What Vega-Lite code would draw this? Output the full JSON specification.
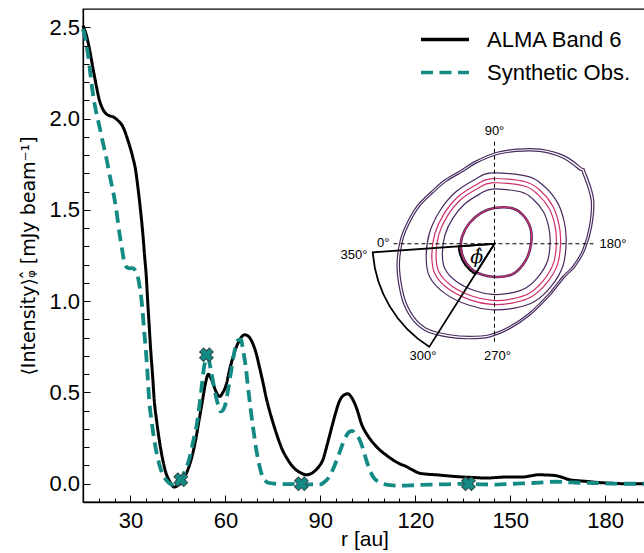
{
  "$schema": "https://vega.github.io/schema/vega-lite/v6.json",
  "description": "Azimuthally averaged intensity profile, ALMA Band 6 vs synthetic observation",
  "width": 563,
  "height": 493,
  "autosize": {"type": "none"},
  "padding": {"left": 83, "top": 9, "right": 0, "bottom": 51},
  "background": "white",
  "config": {
    "view": {"stroke": "black", "strokeWidth": 1.3},
    "font": "Liberation Sans",
    "axis": {
      "grid": false,
      "domainColor": "black",
      "domainWidth": 1.3,
      "tickColor": "black",
      "tickWidth": 1,
      "labelColor": "black",
      "titleColor": "black",
      "labelFont": "Liberation Sans",
      "titleFont": "Liberation Sans",
      "labelFontSize": 22,
      "titleFontSize": 21,
      "titleFontWeight": "normal",
      "labelFlush": false,
      "labelOverlap": false,
      "labelBound": false
    }
  },
  "resolve": {"axis": {"x": "independent", "y": "independent"}},
  "datasets": {
    "profile": [
      {"series": "ALMA Band 6", "r": 15, "v": 2.51},
      {"series": "ALMA Band 6", "r": 16, "v": 2.46},
      {"series": "ALMA Band 6", "r": 17.05, "v": 2.38},
      {"series": "ALMA Band 6", "r": 18.1, "v": 2.28},
      {"series": "ALMA Band 6", "r": 19.2, "v": 2.18},
      {"series": "ALMA Band 6", "r": 20.2, "v": 2.1},
      {"series": "ALMA Band 6", "r": 21.3, "v": 2.05},
      {"series": "ALMA Band 6", "r": 22.4, "v": 2.025},
      {"series": "ALMA Band 6", "r": 23.4, "v": 2.015},
      {"series": "ALMA Band 6", "r": 24.4, "v": 2.01},
      {"series": "ALMA Band 6", "r": 26, "v": 1.99},
      {"series": "ALMA Band 6", "r": 27.6, "v": 1.955},
      {"series": "ALMA Band 6", "r": 29.2, "v": 1.88},
      {"series": "ALMA Band 6", "r": 30.7, "v": 1.79},
      {"series": "ALMA Band 6", "r": 31.6, "v": 1.72},
      {"series": "ALMA Band 6", "r": 32.3, "v": 1.63},
      {"series": "ALMA Band 6", "r": 33.1, "v": 1.51},
      {"series": "ALMA Band 6", "r": 33.9, "v": 1.37},
      {"series": "ALMA Band 6", "r": 34.5, "v": 1.24},
      {"series": "ALMA Band 6", "r": 35, "v": 1.135},
      {"series": "ALMA Band 6", "r": 35.4, "v": 1.01},
      {"series": "ALMA Band 6", "r": 35.9, "v": 0.87},
      {"series": "ALMA Band 6", "r": 36.4, "v": 0.73},
      {"series": "ALMA Band 6", "r": 37, "v": 0.59},
      {"series": "ALMA Band 6", "r": 37.5, "v": 0.46},
      {"series": "ALMA Band 6", "r": 38.3, "v": 0.34},
      {"series": "ALMA Band 6", "r": 39.1, "v": 0.24},
      {"series": "ALMA Band 6", "r": 40.1, "v": 0.14},
      {"series": "ALMA Band 6", "r": 41.2, "v": 0.06},
      {"series": "ALMA Band 6", "r": 42.5, "v": 0.01},
      {"series": "ALMA Band 6", "r": 43.8, "v": -0.018},
      {"series": "ALMA Band 6", "r": 45.1, "v": -0.008},
      {"series": "ALMA Band 6", "r": 46.4, "v": 0.013},
      {"series": "ALMA Band 6", "r": 47.5, "v": 0.05},
      {"series": "ALMA Band 6", "r": 48.5, "v": 0.095},
      {"series": "ALMA Band 6", "r": 49.6, "v": 0.16},
      {"series": "ALMA Band 6", "r": 50.6, "v": 0.24},
      {"series": "ALMA Band 6", "r": 51.7, "v": 0.35},
      {"series": "ALMA Band 6", "r": 52.8, "v": 0.46},
      {"series": "ALMA Band 6", "r": 53.7, "v": 0.55},
      {"series": "ALMA Band 6", "r": 54.6, "v": 0.6},
      {"series": "ALMA Band 6", "r": 55.5, "v": 0.575},
      {"series": "ALMA Band 6", "r": 56.4, "v": 0.533},
      {"series": "ALMA Band 6", "r": 57.3, "v": 0.495},
      {"series": "ALMA Band 6", "r": 58.2, "v": 0.478},
      {"series": "ALMA Band 6", "r": 59.2, "v": 0.5},
      {"series": "ALMA Band 6", "r": 60.1, "v": 0.533},
      {"series": "ALMA Band 6", "r": 61.4, "v": 0.63},
      {"series": "ALMA Band 6", "r": 62.8, "v": 0.716},
      {"series": "ALMA Band 6", "r": 64.4, "v": 0.785},
      {"series": "ALMA Band 6", "r": 66.1, "v": 0.816},
      {"series": "ALMA Band 6", "r": 67.4, "v": 0.805},
      {"series": "ALMA Band 6", "r": 68.6, "v": 0.77},
      {"series": "ALMA Band 6", "r": 69.7, "v": 0.715},
      {"series": "ALMA Band 6", "r": 70.7, "v": 0.643},
      {"series": "ALMA Band 6", "r": 71.8, "v": 0.56},
      {"series": "ALMA Band 6", "r": 72.8, "v": 0.478},
      {"series": "ALMA Band 6", "r": 74.1, "v": 0.39},
      {"series": "ALMA Band 6", "r": 75.4, "v": 0.314},
      {"series": "ALMA Band 6", "r": 76.7, "v": 0.245},
      {"series": "ALMA Band 6", "r": 78, "v": 0.186},
      {"series": "ALMA Band 6", "r": 79.6, "v": 0.135},
      {"series": "ALMA Band 6", "r": 81.2, "v": 0.095},
      {"series": "ALMA Band 6", "r": 82.4, "v": 0.075},
      {"series": "ALMA Band 6", "r": 84, "v": 0.058},
      {"series": "ALMA Band 6", "r": 85.5, "v": 0.049},
      {"series": "ALMA Band 6", "r": 87.1, "v": 0.056},
      {"series": "ALMA Band 6", "r": 88.7, "v": 0.077},
      {"series": "ALMA Band 6", "r": 89.8, "v": 0.1},
      {"series": "ALMA Band 6", "r": 90.8, "v": 0.131},
      {"series": "ALMA Band 6", "r": 92.1, "v": 0.21},
      {"series": "ALMA Band 6", "r": 93.4, "v": 0.296},
      {"series": "ALMA Band 6", "r": 94.7, "v": 0.38},
      {"series": "ALMA Band 6", "r": 96, "v": 0.451},
      {"series": "ALMA Band 6", "r": 97.4, "v": 0.485},
      {"series": "ALMA Band 6", "r": 98.7, "v": 0.493},
      {"series": "ALMA Band 6", "r": 99.8, "v": 0.474},
      {"series": "ALMA Band 6", "r": 100.8, "v": 0.442},
      {"series": "ALMA Band 6", "r": 101.9, "v": 0.39},
      {"series": "ALMA Band 6", "r": 102.9, "v": 0.332},
      {"series": "ALMA Band 6", "r": 104.2, "v": 0.285},
      {"series": "ALMA Band 6", "r": 105.5, "v": 0.25},
      {"series": "ALMA Band 6", "r": 107.1, "v": 0.215},
      {"series": "ALMA Band 6", "r": 108.7, "v": 0.186},
      {"series": "ALMA Band 6", "r": 110.8, "v": 0.157},
      {"series": "ALMA Band 6", "r": 112.9, "v": 0.131},
      {"series": "ALMA Band 6", "r": 115, "v": 0.11},
      {"series": "ALMA Band 6", "r": 117.1, "v": 0.095},
      {"series": "ALMA Band 6", "r": 119.2, "v": 0.075},
      {"series": "ALMA Band 6", "r": 121.3, "v": 0.058},
      {"series": "ALMA Band 6", "r": 124, "v": 0.052},
      {"series": "ALMA Band 6", "r": 126.6, "v": 0.049},
      {"series": "ALMA Band 6", "r": 129.7, "v": 0.044},
      {"series": "ALMA Band 6", "r": 132.4, "v": 0.04},
      {"series": "ALMA Band 6", "r": 135, "v": 0.037},
      {"series": "ALMA Band 6", "r": 138.7, "v": 0.034},
      {"series": "ALMA Band 6", "r": 142.4, "v": 0.031},
      {"series": "ALMA Band 6", "r": 145.5, "v": 0.034},
      {"series": "ALMA Band 6", "r": 148.7, "v": 0.037},
      {"series": "ALMA Band 6", "r": 151.3, "v": 0.037},
      {"series": "ALMA Band 6", "r": 154, "v": 0.037},
      {"series": "ALMA Band 6", "r": 156.4, "v": 0.043},
      {"series": "ALMA Band 6", "r": 158.7, "v": 0.049},
      {"series": "ALMA Band 6", "r": 161.6, "v": 0.048},
      {"series": "ALMA Band 6", "r": 164.5, "v": 0.044},
      {"series": "ALMA Band 6", "r": 166.6, "v": 0.034},
      {"series": "ALMA Band 6", "r": 168.7, "v": 0.022},
      {"series": "ALMA Band 6", "r": 171.3, "v": 0.017},
      {"series": "ALMA Band 6", "r": 174, "v": 0.013},
      {"series": "ALMA Band 6", "r": 177, "v": 0.008},
      {"series": "ALMA Band 6", "r": 180.3, "v": 0.004},
      {"series": "ALMA Band 6", "r": 184, "v": 0.001},
      {"series": "ALMA Band 6", "r": 188, "v": 0},
      {"series": "ALMA Band 6", "r": 193, "v": 0},
      {"series": "Synthetic Obs.", "r": 15, "v": 2.49},
      {"series": "Synthetic Obs.", "r": 15.7, "v": 2.44},
      {"series": "Synthetic Obs.", "r": 16.5, "v": 2.36},
      {"series": "Synthetic Obs.", "r": 17.3, "v": 2.25},
      {"series": "Synthetic Obs.", "r": 18.1, "v": 2.14},
      {"series": "Synthetic Obs.", "r": 19.1, "v": 2.04},
      {"series": "Synthetic Obs.", "r": 20.2, "v": 1.957},
      {"series": "Synthetic Obs.", "r": 21.2, "v": 1.875},
      {"series": "Synthetic Obs.", "r": 22.3, "v": 1.79},
      {"series": "Synthetic Obs.", "r": 23.6, "v": 1.675},
      {"series": "Synthetic Obs.", "r": 25, "v": 1.555},
      {"series": "Synthetic Obs.", "r": 25.8, "v": 1.465},
      {"series": "Synthetic Obs.", "r": 26.5, "v": 1.373},
      {"series": "Synthetic Obs.", "r": 27.3, "v": 1.29},
      {"series": "Synthetic Obs.", "r": 28.1, "v": 1.209},
      {"series": "Synthetic Obs.", "r": 28.9, "v": 1.185},
      {"series": "Synthetic Obs.", "r": 29.8, "v": 1.18},
      {"series": "Synthetic Obs.", "r": 30.7, "v": 1.181},
      {"series": "Synthetic Obs.", "r": 31.6, "v": 1.165},
      {"series": "Synthetic Obs.", "r": 32.3, "v": 1.135},
      {"series": "Synthetic Obs.", "r": 32.9, "v": 1.08},
      {"series": "Synthetic Obs.", "r": 33.4, "v": 1.02},
      {"series": "Synthetic Obs.", "r": 33.8, "v": 0.95},
      {"series": "Synthetic Obs.", "r": 34.3, "v": 0.84},
      {"series": "Synthetic Obs.", "r": 34.85, "v": 0.734},
      {"series": "Synthetic Obs.", "r": 35.4, "v": 0.6},
      {"series": "Synthetic Obs.", "r": 35.9, "v": 0.46},
      {"series": "Synthetic Obs.", "r": 36.7, "v": 0.34},
      {"series": "Synthetic Obs.", "r": 37.5, "v": 0.241},
      {"series": "Synthetic Obs.", "r": 38.5, "v": 0.15},
      {"series": "Synthetic Obs.", "r": 39.6, "v": 0.077},
      {"series": "Synthetic Obs.", "r": 40.9, "v": 0.03},
      {"series": "Synthetic Obs.", "r": 42.2, "v": 0.004},
      {"series": "Synthetic Obs.", "r": 43.3, "v": -0.006},
      {"series": "Synthetic Obs.", "r": 44.3, "v": -0.005},
      {"series": "Synthetic Obs.", "r": 45.1, "v": 0.005},
      {"series": "Synthetic Obs.", "r": 45.9, "v": 0.022},
      {"series": "Synthetic Obs.", "r": 47.2, "v": 0.07},
      {"series": "Synthetic Obs.", "r": 48.5, "v": 0.131},
      {"series": "Synthetic Obs.", "r": 49.8, "v": 0.23},
      {"series": "Synthetic Obs.", "r": 51.2, "v": 0.35},
      {"series": "Synthetic Obs.", "r": 52.3, "v": 0.5},
      {"series": "Synthetic Obs.", "r": 53.3, "v": 0.643},
      {"series": "Synthetic Obs.", "r": 54, "v": 0.695},
      {"series": "Synthetic Obs.", "r": 54.7, "v": 0.68},
      {"series": "Synthetic Obs.", "r": 55.4, "v": 0.624},
      {"series": "Synthetic Obs.", "r": 56.2, "v": 0.55},
      {"series": "Synthetic Obs.", "r": 57, "v": 0.478},
      {"series": "Synthetic Obs.", "r": 57.8, "v": 0.425},
      {"series": "Synthetic Obs.", "r": 58.5, "v": 0.396},
      {"series": "Synthetic Obs.", "r": 59.3, "v": 0.405},
      {"series": "Synthetic Obs.", "r": 60.1, "v": 0.442},
      {"series": "Synthetic Obs.", "r": 60.9, "v": 0.52},
      {"series": "Synthetic Obs.", "r": 61.7, "v": 0.606},
      {"series": "Synthetic Obs.", "r": 62.6, "v": 0.7},
      {"series": "Synthetic Obs.", "r": 63.5, "v": 0.77},
      {"series": "Synthetic Obs.", "r": 64.2, "v": 0.788},
      {"series": "Synthetic Obs.", "r": 64.9, "v": 0.789},
      {"series": "Synthetic Obs.", "r": 65.6, "v": 0.73},
      {"series": "Synthetic Obs.", "r": 66.4, "v": 0.643},
      {"series": "Synthetic Obs.", "r": 67.2, "v": 0.52},
      {"series": "Synthetic Obs.", "r": 68, "v": 0.405},
      {"series": "Synthetic Obs.", "r": 68.8, "v": 0.3},
      {"series": "Synthetic Obs.", "r": 69.6, "v": 0.204},
      {"series": "Synthetic Obs.", "r": 70.6, "v": 0.11},
      {"series": "Synthetic Obs.", "r": 71.7, "v": 0.04},
      {"series": "Synthetic Obs.", "r": 72.7, "v": 0.015},
      {"series": "Synthetic Obs.", "r": 73.8, "v": 0.004},
      {"series": "Synthetic Obs.", "r": 76, "v": 0},
      {"series": "Synthetic Obs.", "r": 78, "v": -0.002},
      {"series": "Synthetic Obs.", "r": 80.5, "v": -0.002},
      {"series": "Synthetic Obs.", "r": 83.9, "v": 0},
      {"series": "Synthetic Obs.", "r": 86.8, "v": -0.003},
      {"series": "Synthetic Obs.", "r": 89.7, "v": -0.005},
      {"series": "Synthetic Obs.", "r": 91.3, "v": 0.01},
      {"series": "Synthetic Obs.", "r": 92.9, "v": 0.04},
      {"series": "Synthetic Obs.", "r": 94.5, "v": 0.1},
      {"series": "Synthetic Obs.", "r": 96, "v": 0.168},
      {"series": "Synthetic Obs.", "r": 97.1, "v": 0.22},
      {"series": "Synthetic Obs.", "r": 98.1, "v": 0.259},
      {"series": "Synthetic Obs.", "r": 99, "v": 0.282},
      {"series": "Synthetic Obs.", "r": 100, "v": 0.29},
      {"series": "Synthetic Obs.", "r": 101.2, "v": 0.27},
      {"series": "Synthetic Obs.", "r": 102.4, "v": 0.241},
      {"series": "Synthetic Obs.", "r": 103.5, "v": 0.19},
      {"series": "Synthetic Obs.", "r": 104.5, "v": 0.131},
      {"series": "Synthetic Obs.", "r": 105.5, "v": 0.08},
      {"series": "Synthetic Obs.", "r": 106.6, "v": 0.04},
      {"series": "Synthetic Obs.", "r": 108.1, "v": 0.012},
      {"series": "Synthetic Obs.", "r": 109.7, "v": 0},
      {"series": "Synthetic Obs.", "r": 112, "v": -0.008},
      {"series": "Synthetic Obs.", "r": 115, "v": -0.011},
      {"series": "Synthetic Obs.", "r": 120, "v": -0.008},
      {"series": "Synthetic Obs.", "r": 124.5, "v": -0.005},
      {"series": "Synthetic Obs.", "r": 130, "v": -0.003},
      {"series": "Synthetic Obs.", "r": 136.6, "v": 0},
      {"series": "Synthetic Obs.", "r": 141, "v": -0.003},
      {"series": "Synthetic Obs.", "r": 145.5, "v": -0.005},
      {"series": "Synthetic Obs.", "r": 151, "v": 0},
      {"series": "Synthetic Obs.", "r": 157.1, "v": 0.004},
      {"series": "Synthetic Obs.", "r": 161, "v": 0.008},
      {"series": "Synthetic Obs.", "r": 164.5, "v": 0.011},
      {"series": "Synthetic Obs.", "r": 167, "v": 0.009},
      {"series": "Synthetic Obs.", "r": 169.8, "v": 0.007},
      {"series": "Synthetic Obs.", "r": 173, "v": 0.005},
      {"series": "Synthetic Obs.", "r": 176.1, "v": 0.004},
      {"series": "Synthetic Obs.", "r": 180, "v": 0.002},
      {"series": "Synthetic Obs.", "r": 185, "v": 0},
      {"series": "Synthetic Obs.", "r": 193, "v": 0}
    ],
    "markers": [
      {"r": 45.9, "v": 0.022},
      {"r": 54.0, "v": 0.706},
      {"r": 84.0, "v": 0.0},
      {"r": 136.8, "v": 0.0}
    ],
    "contours": [
      {"c": "A", "i": 1, "r": 145.02, "v": 1.51},
      {"c": "A", "i": 2, "r": 150.29, "v": 1.51},
      {"c": "A", "i": 3, "r": 153.96, "v": 1.473},
      {"c": "A", "i": 4, "r": 156.39, "v": 1.4},
      {"c": "A", "i": 5, "r": 156.61, "v": 1.318},
      {"c": "A", "i": 6, "r": 155.03, "v": 1.227},
      {"c": "A", "i": 7, "r": 151.33, "v": 1.154},
      {"c": "A", "i": 8, "r": 146.06, "v": 1.132},
      {"c": "A", "i": 9, "r": 139.74, "v": 1.154},
      {"c": "A", "i": 10, "r": 136.07, "v": 1.209},
      {"c": "A", "i": 11, "r": 134.49, "v": 1.282},
      {"c": "A", "i": 12, "r": 134.81, "v": 1.354},
      {"c": "A", "i": 13, "r": 137.12, "v": 1.428},
      {"c": "A", "i": 14, "r": 140.81, "v": 1.483},
      {"c": "B", "i": 1, "r": 144.36, "v": 1.614},
      {"c": "B", "i": 2, "r": 153.27, "v": 1.599},
      {"c": "B", "i": 3, "r": 157.33, "v": 1.557},
      {"c": "B", "i": 4, "r": 160.56, "v": 1.487},
      {"c": "B", "i": 5, "r": 162.19, "v": 1.403},
      {"c": "B", "i": 6, "r": 162.61, "v": 1.319},
      {"c": "B", "i": 7, "r": 161.78, "v": 1.22},
      {"c": "B", "i": 8, "r": 158.96, "v": 1.136},
      {"c": "B", "i": 9, "r": 154.9, "v": 1.072},
      {"c": "B", "i": 10, "r": 150.03, "v": 1.044},
      {"c": "B", "i": 11, "r": 144.36, "v": 1.037},
      {"c": "B", "i": 12, "r": 138.67, "v": 1.058},
      {"c": "B", "i": 13, "r": 133.0, "v": 1.108},
      {"c": "B", "i": 14, "r": 129.35, "v": 1.178},
      {"c": "B", "i": 15, "r": 128.55, "v": 1.262},
      {"c": "B", "i": 16, "r": 129.35, "v": 1.361},
      {"c": "B", "i": 17, "r": 131.78, "v": 1.452},
      {"c": "B", "i": 18, "r": 135.43, "v": 1.529},
      {"c": "B", "i": 19, "r": 140.3, "v": 1.586},
      {"c": "C", "i": 1, "r": 144.21, "v": 1.648},
      {"c": "C", "i": 2, "r": 154.16, "v": 1.632},
      {"c": "C", "i": 3, "r": 158.69, "v": 1.585},
      {"c": "C", "i": 4, "r": 162.31, "v": 1.507},
      {"c": "C", "i": 5, "r": 164.13, "v": 1.413},
      {"c": "C", "i": 6, "r": 164.59, "v": 1.318},
      {"c": "C", "i": 7, "r": 163.67, "v": 1.208},
      {"c": "C", "i": 8, "r": 160.51, "v": 1.114},
      {"c": "C", "i": 9, "r": 155.98, "v": 1.043},
      {"c": "C", "i": 10, "r": 150.54, "v": 1.012},
      {"c": "C", "i": 11, "r": 144.21, "v": 1.004},
      {"c": "C", "i": 12, "r": 137.85, "v": 1.028},
      {"c": "C", "i": 13, "r": 131.52, "v": 1.083},
      {"c": "C", "i": 14, "r": 127.44, "v": 1.161},
      {"c": "C", "i": 15, "r": 126.55, "v": 1.255},
      {"c": "C", "i": 16, "r": 127.44, "v": 1.366},
      {"c": "C", "i": 17, "r": 130.16, "v": 1.467},
      {"c": "C", "i": 18, "r": 134.24, "v": 1.554},
      {"c": "C", "i": 19, "r": 139.67, "v": 1.617},
      {"c": "D", "i": 1, "r": 144.11, "v": 1.671},
      {"c": "D", "i": 2, "r": 154.75, "v": 1.654},
      {"c": "D", "i": 3, "r": 159.6, "v": 1.604},
      {"c": "D", "i": 4, "r": 163.47, "v": 1.52},
      {"c": "D", "i": 5, "r": 165.42, "v": 1.419},
      {"c": "D", "i": 6, "r": 165.91, "v": 1.318},
      {"c": "D", "i": 7, "r": 164.92, "v": 1.2},
      {"c": "D", "i": 8, "r": 161.55, "v": 1.1},
      {"c": "D", "i": 9, "r": 156.7, "v": 1.024},
      {"c": "D", "i": 10, "r": 150.88, "v": 0.991},
      {"c": "D", "i": 11, "r": 144.11, "v": 0.982},
      {"c": "D", "i": 12, "r": 137.31, "v": 1.007},
      {"c": "D", "i": 13, "r": 130.53, "v": 1.066},
      {"c": "D", "i": 14, "r": 126.17, "v": 1.15},
      {"c": "D", "i": 15, "r": 125.22, "v": 1.251},
      {"c": "D", "i": 16, "r": 126.17, "v": 1.369},
      {"c": "D", "i": 17, "r": 129.08, "v": 1.478},
      {"c": "D", "i": 18, "r": 133.44, "v": 1.57},
      {"c": "D", "i": 19, "r": 139.26, "v": 1.637},
      {"c": "E", "i": 1, "r": 143.98, "v": 1.702},
      {"c": "E", "i": 2, "r": 155.54, "v": 1.683},
      {"c": "E", "i": 3, "r": 160.82, "v": 1.628},
      {"c": "E", "i": 4, "r": 165.02, "v": 1.537},
      {"c": "E", "i": 5, "r": 167.14, "v": 1.428},
      {"c": "E", "i": 6, "r": 167.67, "v": 1.318},
      {"c": "E", "i": 7, "r": 166.6, "v": 1.19},
      {"c": "E", "i": 8, "r": 162.93, "v": 1.081},
      {"c": "E", "i": 9, "r": 157.66, "v": 0.998},
      {"c": "E", "i": 10, "r": 151.34, "v": 0.962},
      {"c": "E", "i": 11, "r": 143.98, "v": 0.953},
      {"c": "E", "i": 12, "r": 136.58, "v": 0.98},
      {"c": "E", "i": 13, "r": 129.22, "v": 1.044},
      {"c": "E", "i": 14, "r": 124.48, "v": 1.135},
      {"c": "E", "i": 15, "r": 123.44, "v": 1.245},
      {"c": "E", "i": 16, "r": 124.48, "v": 1.373},
      {"c": "E", "i": 17, "r": 127.64, "v": 1.491},
      {"c": "E", "i": 18, "r": 132.38, "v": 1.592},
      {"c": "E", "i": 19, "r": 138.7, "v": 1.665},
      {"c": "F", "i": 1, "r": 172.91, "v": 1.702},
      {"c": "F", "i": 2, "r": 175.57, "v": 1.555},
      {"c": "F", "i": 3, "r": 175.03, "v": 1.409},
      {"c": "F", "i": 4, "r": 172.91, "v": 1.282},
      {"c": "F", "i": 5, "r": 169.75, "v": 1.19},
      {"c": "F", "i": 6, "r": 166.6, "v": 1.135},
      {"c": "F", "i": 7, "r": 162.39, "v": 1.044},
      {"c": "F", "i": 8, "r": 156.07, "v": 0.935},
      {"c": "F", "i": 9, "r": 149.76, "v": 0.861},
      {"c": "F", "i": 10, "r": 143.44, "v": 0.816},
      {"c": "F", "i": 11, "r": 137.12, "v": 0.807},
      {"c": "F", "i": 12, "r": 130.8, "v": 0.816},
      {"c": "F", "i": 13, "r": 124.48, "v": 0.843},
      {"c": "F", "i": 14, "r": 120.28, "v": 0.898},
      {"c": "F", "i": 15, "r": 117.12, "v": 0.99},
      {"c": "F", "i": 16, "r": 115.54, "v": 1.099},
      {"c": "F", "i": 17, "r": 115.0, "v": 1.209},
      {"c": "F", "i": 18, "r": 116.04, "v": 1.336},
      {"c": "F", "i": 19, "r": 118.16, "v": 1.428},
      {"c": "F", "i": 20, "r": 121.32, "v": 1.519},
      {"c": "F", "i": 21, "r": 125.52, "v": 1.592},
      {"c": "F", "i": 22, "r": 129.76, "v": 1.656},
      {"c": "F", "i": 23, "r": 135.0, "v": 1.71},
      {"c": "F", "i": 24, "r": 139.23, "v": 1.756},
      {"c": "F", "i": 25, "r": 145.55, "v": 1.802},
      {"c": "F", "i": 26, "r": 151.87, "v": 1.82},
      {"c": "F", "i": 27, "r": 159.23, "v": 1.82},
      {"c": "F", "i": 28, "r": 166.6, "v": 1.784},
      {"c": "F", "i": 29, "r": 171.87, "v": 1.72},
      {"c": "G", "i": 1, "r": 173.59, "v": 1.7116},
      {"c": "G", "i": 2, "r": 176.32, "v": 1.5609},
      {"c": "G", "i": 3, "r": 175.76, "v": 1.4112},
      {"c": "G", "i": 4, "r": 173.59, "v": 1.2811},
      {"c": "G", "i": 5, "r": 170.35, "v": 1.1868},
      {"c": "G", "i": 6, "r": 167.12, "v": 1.1304},
      {"c": "G", "i": 7, "r": 162.81, "v": 1.0371},
      {"c": "G", "i": 8, "r": 156.33, "v": 0.9254},
      {"c": "G", "i": 9, "r": 149.86, "v": 0.8495},
      {"c": "G", "i": 10, "r": 143.38, "v": 0.8034},
      {"c": "G", "i": 11, "r": 136.91, "v": 0.7942},
      {"c": "G", "i": 12, "r": 130.43, "v": 0.8034},
      {"c": "G", "i": 13, "r": 123.95, "v": 0.8311},
      {"c": "G", "i": 14, "r": 119.65, "v": 0.8875},
      {"c": "G", "i": 15, "r": 116.41, "v": 0.9818},
      {"c": "G", "i": 16, "r": 114.79, "v": 1.0935},
      {"c": "G", "i": 17, "r": 114.23, "v": 1.2062},
      {"c": "G", "i": 18, "r": 115.3, "v": 1.3364},
      {"c": "G", "i": 19, "r": 117.47, "v": 1.4307},
      {"c": "G", "i": 20, "r": 120.71, "v": 1.524},
      {"c": "G", "i": 21, "r": 125.02, "v": 1.5988},
      {"c": "G", "i": 22, "r": 129.36, "v": 1.6644},
      {"c": "G", "i": 23, "r": 134.73, "v": 1.7198},
      {"c": "G", "i": 24, "r": 139.07, "v": 1.7669},
      {"c": "G", "i": 25, "r": 145.55, "v": 1.8141},
      {"c": "G", "i": 26, "r": 152.03, "v": 1.8325},
      {"c": "G", "i": 27, "r": 159.57, "v": 1.8325},
      {"c": "G", "i": 28, "r": 167.12, "v": 1.7956},
      {"c": "G", "i": 29, "r": 172.53, "v": 1.73}
    ],
    "crosshair": [
      {"r": 145.02, "v": 1.873, "r2": 145.02, "v2": 0.772},
      {"r": 113.1, "v": 1.3143, "r2": 177.2, "v2": 1.3143}
    ],
    "center": [
      {"r": 145.02, "v": 1.3143}
    ],
    "insetLabels": [
      {"t": "90°", "r": 145.02, "v": 1.933},
      {"t": "180°", "r": 178.19, "v": 1.3143},
      {"t": "0°", "r": 111.84, "v": 1.32},
      {"t": "350°", "r": 104.89, "v": 1.254},
      {"t": "300°", "r": 122.43, "v": 0.701},
      {"t": "270°", "r": 145.96, "v": 0.701},
      {"t": "ϕ̂", "r": 139.42, "v": 1.2415}
    ]
  },
  "layer": [
    {
      "data": {"name": "contours"},
      "transform": [{"filter": "indexof(['B', 'E', 'F', 'G'], datum.c) >= 0"}],
      "mark": {"type": "line", "interpolate": "cardinal-closed", "stroke": "#472a5e", "strokeWidth": 1.2},
      "encoding": {
        "x": {"field": "r", "type": "quantitative", "axis": null},
        "y": {"field": "v", "type": "quantitative", "axis": null},
        "detail": {"field": "c", "type": "nominal"},
        "order": {"field": "i", "type": "quantitative"}
      }
    },
    {
      "data": {"name": "contours"},
      "transform": [{"filter": "datum.c == 'A'"}],
      "mark": {"type": "line", "interpolate": "cardinal-closed", "stroke": "#472a5e", "strokeWidth": 2.6},
      "encoding": {
        "x": {"field": "r", "type": "quantitative", "axis": null},
        "y": {"field": "v", "type": "quantitative", "axis": null},
        "order": {"field": "i", "type": "quantitative"}
      }
    },
    {
      "data": {"name": "contours"},
      "transform": [{"filter": "indexof(['A', 'C', 'D'], datum.c) >= 0"}],
      "mark": {"type": "line", "interpolate": "cardinal-closed", "stroke": "#cf2e6c", "strokeWidth": 1.2},
      "encoding": {
        "x": {"field": "r", "type": "quantitative", "axis": null},
        "y": {"field": "v", "type": "quantitative", "axis": null},
        "detail": {"field": "c", "type": "nominal"},
        "order": {"field": "i", "type": "quantitative"}
      }
    },
    {
      "data": {"name": "crosshair"},
      "mark": {"type": "rule", "color": "black", "strokeWidth": 1, "strokeDash": [4, 3]},
      "encoding": {
        "x": {"field": "r", "type": "quantitative", "axis": null},
        "x2": {"field": "r2"},
        "y": {"field": "v", "type": "quantitative", "axis": null},
        "y2": {"field": "v2"}
      }
    },
    {
      "data": {"name": "center"},
      "mark": {"type": "arc", "radius": 122, "theta": 3.7057, "theta2": 4.6414, "filled": false, "stroke": "black", "strokeWidth": 1.8},
      "encoding": {
        "x": {"field": "r", "type": "quantitative", "axis": null},
        "y": {"field": "v", "type": "quantitative", "axis": null}
      }
    },
    {
      "data": {"name": "center"},
      "mark": {"type": "arc", "radius": 36, "theta": 3.7057, "theta2": 4.6414, "filled": false, "stroke": "black", "strokeWidth": 1.8},
      "encoding": {
        "x": {"field": "r", "type": "quantitative", "axis": null},
        "y": {"field": "v", "type": "quantitative", "axis": null}
      }
    },
    {
      "data": {"name": "insetLabels"},
      "transform": [{"filter": "indexof(['90°', '300°', '270°'], datum.t) >= 0"}],
      "mark": {"type": "text", "align": "center", "baseline": "middle", "fontSize": 13, "font": "Liberation Sans", "color": "black"},
      "encoding": {
        "x": {"field": "r", "type": "quantitative", "axis": null},
        "y": {"field": "v", "type": "quantitative", "axis": null},
        "text": {"field": "t"}
      }
    },
    {
      "data": {"name": "insetLabels"},
      "transform": [{"filter": "datum.t == '180°'"}],
      "mark": {"type": "text", "align": "left", "baseline": "middle", "fontSize": 13, "font": "Liberation Sans", "color": "black"},
      "encoding": {
        "x": {"field": "r", "type": "quantitative", "axis": null},
        "y": {"field": "v", "type": "quantitative", "axis": null},
        "text": {"field": "t"}
      }
    },
    {
      "data": {"name": "insetLabels"},
      "transform": [{"filter": "indexof(['0°', '350°'], datum.t) >= 0"}],
      "mark": {"type": "text", "align": "right", "baseline": "middle", "fontSize": 13, "font": "Liberation Sans", "color": "black"},
      "encoding": {
        "x": {"field": "r", "type": "quantitative", "axis": null},
        "y": {"field": "v", "type": "quantitative", "axis": null},
        "text": {"field": "t"}
      }
    },
    {
      "data": {"name": "insetLabels"},
      "transform": [{"filter": "datum.t == 'ϕ̂'"}],
      "mark": {"type": "text", "align": "center", "baseline": "middle", "fontSize": 19, "font": "DejaVu Serif", "fontStyle": "italic", "color": "black"},
      "encoding": {
        "x": {"field": "r", "type": "quantitative", "axis": null},
        "y": {"field": "v", "type": "quantitative", "axis": null},
        "text": {"field": "t"}
      }
    },
    {
      "data": {"name": "profile"},
      "transform": [{"filter": "datum.series == 'ALMA Band 6'"}],
      "mark": {"type": "line", "interpolate": "monotone", "strokeWidth": 3, "strokeJoin": "round"},
      "encoding": {
        "x": {
          "field": "r",
          "type": "quantitative",
          "scale": {"domain": [15, 192.9], "nice": false, "zero": false},
          "axis": {
            "orient": "bottom",
            "title": "r [au]",
            "titlePadding": -3,
            "values": [30, 60, 90, 120, 150, 180],
            "format": "d",
            "tickSize": -7,
            "labelPadding": 15
          }
        },
        "y": {
          "field": "v",
          "type": "quantitative",
          "scale": {"domain": [-0.1, 2.6], "nice": false, "zero": false},
          "axis": {
            "orient": "left",
            "title": "⟨Intensity⟩ᵩ̂  [mJy beam⁻¹]",
            "titleFont": "DejaVu Sans",
            "titleFontSize": 19,
            "titlePadding": 10,
            "values": [0, 0.5, 1, 1.5, 2, 2.5],
            "format": ".1f",
            "tickSize": -7,
            "labelPadding": 10.5
          }
        },
        "color": {
          "field": "series",
          "type": "nominal",
          "scale": {"domain": ["ALMA Band 6", "Synthetic Obs."], "range": ["#000000", "#138a84"]},
          "legend": {
            "title": null,
            "orient": "none",
            "legendX": 336,
            "legendY": 14,
            "symbolType": "stroke",
            "symbolSize": 2304,
            "symbolStrokeWidth": 3.5,
            "labelFontSize": 22,
            "labelFont": "Liberation Sans",
            "labelColor": "black",
            "labelOffset": 16,
            "clipHeight": 33,
            "rowPadding": 0
          }
        },
        "strokeDash": {
          "field": "series",
          "type": "nominal",
          "scale": {"domain": ["ALMA Band 6", "Synthetic Obs."], "range": [[1, 0], [12, 6.5]]},
          "legend": {
            "title": null,
            "orient": "none",
            "legendX": 336,
            "legendY": 14,
            "symbolType": "stroke",
            "symbolSize": 2304,
            "symbolStrokeWidth": 3.5,
            "labelFontSize": 22,
            "labelFont": "Liberation Sans",
            "labelColor": "black",
            "labelOffset": 16,
            "clipHeight": 33,
            "rowPadding": 0
          }
        }
      }
    },
    {
      "data": {"name": "profile"},
      "transform": [{"filter": "datum.series == 'Synthetic Obs.'"}],
      "mark": {"type": "line", "interpolate": "monotone", "strokeWidth": 3.8, "strokeCap": "butt"},
      "encoding": {
        "x": {"field": "r", "type": "quantitative", "axis": null},
        "y": {"field": "v", "type": "quantitative", "axis": null},
        "color": {"field": "series", "type": "nominal"},
        "strokeDash": {"field": "series", "type": "nominal"}
      }
    },
    {
      "data": {"name": "markers"},
      "mark": {"type": "point", "shape": "cross", "angle": 45, "size": 190, "filled": true, "fill": "#138a84", "stroke": "#2e4a4a", "strokeWidth": 1, "opacity": 1},
      "encoding": {
        "x": {
          "field": "r",
          "type": "quantitative",
          "axis": {
            "orient": "bottom",
            "title": null,
            "labels": false,
            "domain": false,
            "values": [20, 25, 35, 40, 45, 50, 55, 65, 70, 75, 80, 85, 95, 100, 105, 110, 115, 125, 130, 135, 140, 145, 155, 160, 165, 170, 175, 185, 190],
            "tickSize": -4
          }
        },
        "y": {
          "field": "v",
          "type": "quantitative",
          "axis": {
            "orient": "left",
            "title": null,
            "labels": false,
            "domain": false,
            "values": [0.1, 0.2, 0.3, 0.4, 0.6, 0.7, 0.8, 0.9, 1.1, 1.2, 1.3, 1.4, 1.6, 1.7, 1.8, 1.9, 2.1, 2.2, 2.3, 2.4],
            "tickSize": -6
          }
        }
      }
    }
  ]
}
